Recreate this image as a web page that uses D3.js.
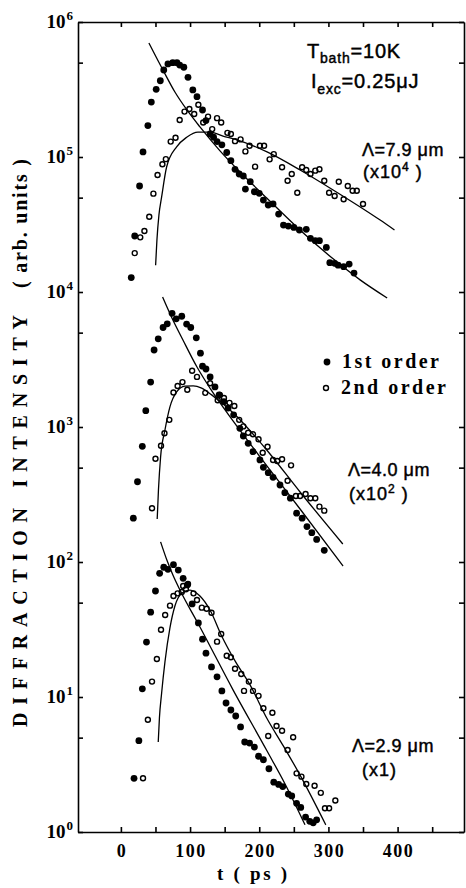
<!DOCTYPE html>
<html lang="en">
<head>
<meta charset="UTF-8">
<title>Diffraction intensity vs time</title>
<script src="https://d3js.org/d3.v7.min.js"></script>
<style>
  body { margin: 0; background: #fff; }
  svg text { fill: #000; }
  .serif { font-family: "Liberation Serif", "DejaVu Serif", serif; font-weight: bold; }
  .sans { font-family: "Liberation Sans", Arial, sans-serif; stroke: #000; stroke-width: 0.45px; }
  .axis path, .axis line { stroke: #000; stroke-width: 1.6px; }
</style>
</head>
<body>
<div id="chart"></div>
<script>
// axis ticks
const xTicks = [0, 100, 200, 300, 400];
const xMinorTicks = [0, 50, 100, 150, 200, 250, 300, 350, 400, 450];
const yDecades = [0, 1, 2, 3, 4, 5, 6];
const yTickVals = [1, 5, 10, 50, 100, 500, 1e3, 5e3, 1e4, 5e4, 1e5, 5e5, 1e6];

// scale factors of the three gratings
const scaleFactors = [1e4, 1e2, 1];
const periodLabels = ["\u039B=7.9 \u03BCm", "\u039B=4.0 \u03BCm", "\u039B=2.9 \u03BCm"];

// t (ps), intensity before scaling -- Lambda = 7.9 um
const lam79First = [[15,1.28],[20,2.60],[27,6.10],[32,10.9],[39,17.1],[44,25.5],[51,31.7],[57,36.7],[62,44.1],[68,48.9],[75,50.0],[81,50.0],[85,48.0],[91,46.2],[97,38.9],[104,31.4],[110,28.0],[118,22.3],[123,18.6],[129,14.8],[134,14.0],[139,13.0],[146,12.3],[153,10.8],[159,9.39],[165,8.11],[171,7.48],[177,7.23],[180,5.79],[187,6.56],[193,5.53],[200,5.38],[206,4.80],[213,4.41],[220,4.49],[228,3.78],[235,3.13],[242,3.08],[250,3.01],[258,2.88],[268,2.91],[274,2.50],[281,2.40],[287,2.40],[297,2.14],[302,1.65],[309,1.63],[314,1.58],[322,1.54],[330,1.61],[337,1.38]];
const lam79Second = [[20,1.94],[28,2.54],[34,2.83],[41,3.61],[47,5.35],[53,7.36],[60,8.83],[65,9.64],[72,13.0],[79,13.9],[85,18.8],[92,21.7],[99,22.7],[106,20.8],[112,24.4],[119,18.0],[126,19.9],[132,16.1],[139,19.4],[145,18.0],[154,15.1],[159,14.8],[165,13.1],[173,13.5],[180,11.0],[186,12.1],[194,8.48],[201,12.1],[207,12.1],[215,9.61],[221,10.5],[233,8.39],[241,6.67],[247,7.48],[255,5.44],[262,8.39],[268,8.01],[274,7.48],[281,7.92],[287,8.11],[294,6.67],[301,5.44],[309,5.14],[315,6.56],[322,4.86],[328,6.10],[335,5.63],[341,5.63],[350,4.49]];
const lam79Fit1 = [[40.5,69.9],[60.8,44.1],[78.1,30.3],[95.5,22.3],[114.3,16.7],[143.3,11.1],[172.2,7.74],[210.8,4.97],[258.9,2.88],[306.8,1.76],[345.8,1.23],[384.9,0.903]];
const lam79Fit2 = [[50.2,1.58],[52.1,2.43],[55.0,3.72],[58.9,5.06],[66.1,8.43],[80.6,11.9],[95.1,14.0],[111.4,15.3],[128.8,15.3],[147.6,14.3],[167.9,13.4],[211.3,10.9],[259.0,8.01],[306.8,5.70],[374.8,3.41],[395.5,2.88]];

// Lambda = 4.0 um
const lam40First = [[18,2.11],[24,3.93],[31,7.19],[36,13.2],[43,21.5],[48,37.2],[54,45.0],[61,54.6],[67,58.1],[74,69.5],[80,63.3],[88,66.1],[95,57.9],[101,54.6],[109,45.8],[115,35.2],[118,28.2],[123,26.9],[129,23.5],[136,19.8],[142,17.3],[149,15.4],[155,13.8],[163,12.3],[172,9.78],[177,8.58],[184,7.57],[191,6.56],[201,5.70],[206,5.03],[213,4.59],[220,4.24],[230,3.72],[237,3.26],[245,2.97],[254,2.30],[262,2.11],[269,1.83],[276,1.65],[283,1.47],[294,1.22]];
const lam40Second = [[45,2.50],[50,5.82],[58,7.26],[63,8.98],[70,11.3],[76,18.0],[82,20.1],[89,21.5],[96,18.9],[103,26.1],[110,23.5],[122,17.9],[129,21.1],[140,15.8],[143,17.3],[149,16.4],[157,15.1],[164,14.3],[171,11.3],[177,10.1],[184,9.07],[191,8.83],[199,8.11],[205,6.45],[212,7.14],[220,5.70],[226,5.60],[233,5.77],[241,4.00],[246,5.20],[253,3.08],[259,3.08],[267,3.19],[274,2.97],[281,2.97],[287,2.57],[294,2.40]];
const lam40Fit1 = [[60.3,91.8],[73.8,64.2],[89.7,44.1],[110.0,27.8],[128.8,19.4],[162.1,11.1],[211.3,5.14],[259.0,2.47],[321.2,0.934]];
const lam40Fit2 = [[52.5,2.08],[54.3,3.41],[57.4,6.00],[63.7,9.50],[70.9,14.1],[80.6,18.2],[92.6,20.1],[104.6,20.2],[116.8,19.4],[131.2,17.3],[162.5,12.7],[210.8,6.76],[259.0,3.30],[320.8,1.36]];

// Lambda = 2.9 um
const lam29First = [[19,2.50],[26,4.75],[31,11.5],[37,25.5],[43,42.5],[50,61.0],[56,82.5],[62,91.4],[68,88.3],[76,95.5],[83,87.2],[90,75.7],[96,67.6],[103,48.9],[112,35.4],[118,26.8],[123,21.1],[131,16.7],[139,14.1],[146,11.1],[152,9.03],[159,8.01],[166,7.23],[173,6.00],[179,4.64],[186,4.56],[193,4.26],[199,3.64],[206,3.43],[214,2.94],[221,2.34],[228,2.25],[234,2.17],[242,1.91],[247,1.85],[254,1.63],[260,1.52],[267,1.29],[273,1.20],[278,1.17],[283,1.23]];
const lam29Second = [[32,2.50],[39,6.79],[45,13.0],[52,19.1],[58,31.5],[64,40.5],[71,47.5],[76,56.0],[82,58.6],[88,59.9],[90,66.4],[94,62.8],[97,68.7],[105,58.6],[110,52.3],[117,45.9],[124,45.1],[131,42.1],[139,25.7],[145,29.3],[153,20.2],[159,19.7],[165,16.2],[174,14.8],[178,11.1],[185,13.0],[191,11.1],[199,10.2],[206,8.25],[213,5.14],[219,7.65],[225,6.10],[233,5.63],[241,4.05],[249,5.03],[254,2.72],[261,2.57],[268,2.27],[280,2.20],[289,1.95],[295,1.50],[301,1.50],[310,1.71]];
const lam29Fit1 = [[57.4,141],[66.6,103],[75.2,80.1],[85.4,62.0],[114.3,33.0],[162.1,11.3],[211.3,3.98],[237.3,2.27],[266.2,1.13]];
const lam29Fit2 = [[54.0,4.64],[55.7,6.99],[58.9,10.7],[63.7,18.2],[70.9,32.5],[78.1,47.2],[88.3,58.9],[99.8,62.0],[114.3,56.0],[128.8,44.1],[145.7,28.3],[165.0,18.5],[186.7,12.3],[210.8,6.99],[234.8,4.34],[259.0,2.64],[296.2,1.13]];

const panels = [
    { first: lam79First, second: lam79Second, fits: [lam79Fit1, lam79Fit2] },
    { first: lam40First, second: lam40Second, fits: [lam40Fit1, lam40Fit2] },
    { first: lam29First, second: lam29Second, fits: [lam29Fit1, lam29Fit2] }
].map((p, i) => Object.assign(p, { factor: scaleFactors[i], label: periodLabels[i] }));

const width = 466, height = 888;
const svg = d3.select("#chart").append("svg")
    .attr("width", width)
    .attr("height", height);

const x = d3.scaleLinear().domain([-62, 496]).range([78, 464]);
const y = d3.scaleLog().domain([1, 1e6]).range([832, 22]);

// frame with inward ticks on all four sides
svg.append("g").attr("class", "axis")
    .attr("transform", `translate(0,${y(1)})`)
    .call(d3.axisBottom(x).tickValues(xMinorTicks).tickSizeInner(-5).tickSizeOuter(0).tickFormat(""));
svg.append("g").attr("class", "axis")
    .attr("transform", `translate(0,${y(1e6)})`)
    .call(d3.axisTop(x).tickValues(xMinorTicks).tickSizeInner(-5).tickSizeOuter(0).tickFormat(""));
svg.append("g").attr("class", "axis")
    .attr("transform", `translate(${x(-62)},0)`)
    .call(d3.axisLeft(y).tickValues(yTickVals).tickSizeInner(-5).tickSizeOuter(0).tickFormat(""));
svg.append("g").attr("class", "axis")
    .attr("transform", `translate(${x(496)},0)`)
    .call(d3.axisRight(y).tickValues(yTickVals).tickSizeInner(-5).tickSizeOuter(0).tickFormat(""));

// x tick labels
svg.selectAll(".xlab")
    .data(xTicks)
    .enter().append("text")
    .attr("class", "serif")
    .attr("x", d => x(d) + 1)
    .attr("y", 857)
    .attr("text-anchor", "middle")
    .attr("font-size", 18)
    .attr("letter-spacing", 1.5)
    .text(d => d);

// y tick labels 10^n
const ylab = svg.selectAll(".ylab")
    .data(yDecades)
    .enter().append("text")
    .attr("class", "serif")
    .attr("x", 73)
    .attr("y", d => y(Math.pow(10, d)) + 6)
    .attr("text-anchor", "end")
    .attr("font-size", 19);
ylab.append("tspan").text("10");
ylab.append("tspan").attr("dy", -8).attr("dx", 1).attr("font-size", 13).text(d => d);

// axis titles
svg.append("text")
    .attr("class", "serif")
    .attr("x", 217).attr("y", 880)
    .attr("font-size", 19)
    .attr("textLength", 70)
    .attr("lengthAdjust", "spacing")
    .text("t ( ps )");

svg.append("text")
    .attr("class", "serif")
    .attr("transform", "translate(27,727) rotate(-90)")
    .attr("font-size", 20)
    .attr("textLength", 412)
    .attr("lengthAdjust", "spacing")
    .text("DIFFRACTION  INTENSITY");

svg.append("text")
    .attr("class", "serif")
    .attr("transform", "translate(27,288) rotate(-90)")
    .attr("font-size", 20)
    .attr("textLength", 129)
    .attr("lengthAdjust", "spacing")
    .text("( arb. units )");

// fits and data
const line = d3.line()
    .x(d => x(d[0]))
    .y(d => y(d[1]))
    .curve(d3.curveMonotoneX);

panels.forEach(p => {
    const g = svg.append("g");
    p.fits.forEach(f => {
        g.append("path")
            .datum(f.map(d => [d[0], d[1] * p.factor]))
            .attr("d", line)
            .attr("fill", "none")
            .attr("stroke", "#000")
            .attr("stroke-width", 1.3);
    });
    g.selectAll(".open")
        .data(p.second)
        .enter().append("circle")
        .attr("cx", d => x(d[0]))
        .attr("cy", d => y(d[1] * p.factor))
        .attr("r", 2.5)
        .attr("fill", "none")
        .attr("stroke", "#000")
        .attr("stroke-width", 1.4);
    g.selectAll(".filled")
        .data(p.first)
        .enter().append("circle")
        .attr("cx", d => x(d[0]))
        .attr("cy", d => y(d[1] * p.factor))
        .attr("r", 3.4)
        .attr("fill", "#000");
});

// annotations
const tb = svg.append("text").attr("class", "sans").attr("x", 307).attr("y", 58).attr("font-size", 20).attr("letter-spacing", 0.8);
tb.append("tspan").text("T");
tb.append("tspan").attr("font-size", 14).attr("dy", 5).text("bath");
tb.append("tspan").attr("dy", -5).text("=10K");

const ie = svg.append("text").attr("class", "sans").attr("x", 311).attr("y", 88).attr("font-size", 20).attr("letter-spacing", 0.8);
ie.append("tspan").text("I");
ie.append("tspan").attr("font-size", 14).attr("dy", 6).text("exc");
ie.append("tspan").attr("dy", -6).text("=0.25\u03BCJ");

const labelPos = [[362, 156, 178, "4"], [348, 476, 500, "2"], [352, 752, 776, null]];
panels.forEach((p, i) => {
    const [lx, ly, sy, ex] = labelPos[i];
    svg.append("text").attr("class", "sans")
        .attr("x", lx).attr("y", ly)
        .attr("font-size", 18)
        .attr("letter-spacing", 0.5)
        .text(p.label);
    const s = svg.append("text").attr("class", "sans")
        .attr("x", lx + (ex ? 1 : 10)).attr("y", sy)
        .attr("font-size", 18)
        .attr("letter-spacing", 1);
    if (ex) {
        s.append("tspan").text("(x10");
        s.append("tspan").attr("font-size", 12).attr("dy", -7).text(ex);
        s.append("tspan").attr("dy", 7).text(" )");
    } else {
        s.text("(x1)");
    }
});

// legend
svg.append("circle").attr("cx", 327).attr("cy", 362).attr("r", 3.4).attr("fill", "#000");
svg.append("circle").attr("cx", 326).attr("cy", 388).attr("r", 2.5)
    .attr("fill", "none").attr("stroke", "#000").attr("stroke-width", 1.4);
svg.append("text").attr("class", "serif")
    .attr("x", 342).attr("y", 368).attr("font-size", 20)
    .attr("textLength", 97).attr("lengthAdjust", "spacing")
    .text("1st order");
svg.append("text").attr("class", "serif")
    .attr("x", 341).attr("y", 394).attr("font-size", 20)
    .attr("textLength", 105).attr("lengthAdjust", "spacing")
    .text("2nd order");
</script>
</body>
</html>
